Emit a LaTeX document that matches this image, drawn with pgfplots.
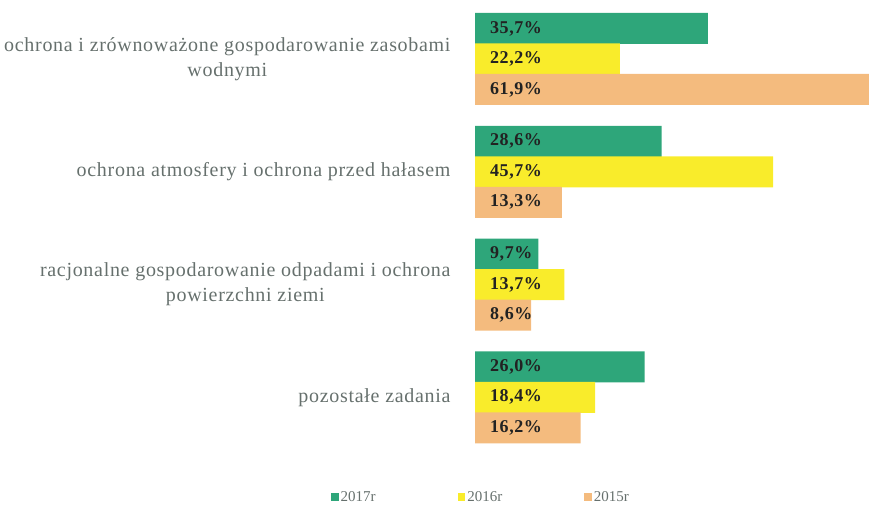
\documentclass[border=0pt]{standalone}
\usepackage{pgfplots}
\pgfplotsset{compat=1.18}
\usepackage{fontspec}
\setmainfont{Liberation Serif}
\newfontfamily\catfont[LetterSpace=3.5]{Liberation Serif}
\newfontfamily\valfont[LetterSpace=3]{Liberation Serif}
\definecolor{g17}{HTML}{2EA67A}
\definecolor{y16}{HTML}{F9EC2B}
\definecolor{o15}{HTML}{F4BB7E}
\definecolor{labgray}{HTML}{66706D}
\definecolor{valtxt}{HTML}{222222}
\begin{document}
\begin{tikzpicture}[x=1pt,y=1pt]
\useasboundingbox (0,0) rectangle (869,504);
\begin{axis}[
  at={(475pt,504pt)}, anchor=north west,
  scale only axis, width=394pt, height=448pt,
  xmin=0, xmax=60.4, ymin=-0.449, ymax=3.523,
  xbar, bar width=31pt, bar shift=0pt,
  axis line style={draw=none}, tick style={draw=none},
  xtick=\empty,
  ytick={0,1,2,3},
  yticklabels={{pozostałe zadania},{racjonalne gospodarowanie odpadami i ochrona\\powierzchni ziemi},{ochrona atmosfery i ochrona przed hałasem},{ochrona i zrównoważone gospodarowanie zasobami\\wodnymi}},
  yticklabel style={align=center, font=\catfont\fontsize{20}{25}\selectfont, text=labgray, anchor=east, inner sep=0pt, xshift=-20pt},
  legend image code/.code={\fill[#1] (0pt,-3.8pt) rectangle (7.7pt,3.8pt);},
  legend columns=3,
  legend style={at={(0.015,-0.11)}, anchor=center, draw=none, fill=none, inner sep=0pt,
    font=\fontsize{15}{18}\selectfont, text=labgray,
    /tikz/every even column/.append style={column sep=80pt}},
  legend cell align=left,
]
\addplot[fill=g17, draw=none] coordinates {(35.7,3.2704) (28.6,2.2704) (9.7,1.2704) (26.0,0.2704)};
\addplot[fill=y16, draw=none] coordinates {(22.2,3) (45.7,2) (13.7,1) (18.4,0)};
\addplot[fill=o15, draw=none] coordinates {(61.9,2.7296) (13.3,1.7296) (8.6,0.7296) (16.2,-0.2704)};
\addplot[forget plot, draw=none, fill=none, nodes near coords, point meta=explicit symbolic,
  every node near coord/.append style={anchor=west, xshift=15pt, inner sep=0pt, font=\valfont\bfseries\fontsize{18}{20}\selectfont, text=valtxt}]
  coordinates {
  (0,3.2704)[35,7\%] (0,2.2704)[28,6\%] (0,1.2704)[9,7\%] (0,0.2704)[26,0\%]
  (0,3)[22,2\%] (0,2)[45,7\%] (0,1)[13,7\%] (0,0)[18,4\%]
  (0,2.7296)[61,9\%] (0,1.7296)[13,3\%] (0,0.7296)[8,6\%] (0,-0.2704)[16,2\%]
  };
\legend{2017r,2016r,2015r}
\end{axis}
\end{tikzpicture}
\end{document}
